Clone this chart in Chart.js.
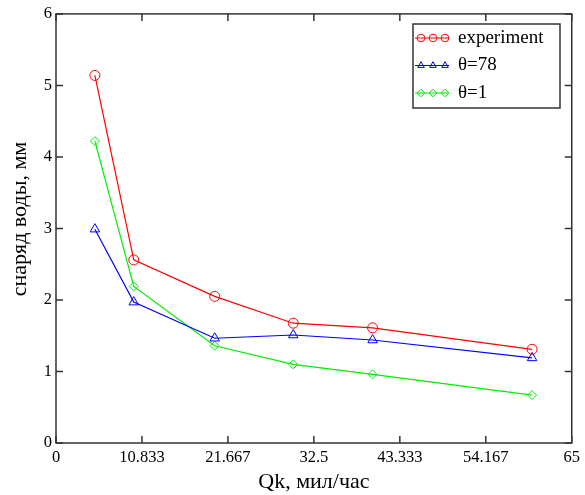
<!DOCTYPE html>
<html>
<head>
<meta charset="utf-8">
<script src="https://cdn.jsdelivr.net/npm/chart.js@4"></script>
<style>
  html, body { margin: 0; padding: 0; background: #fff; }
  #wrap { width: 585px; height: 495px; }
</style>
</head>
<body>
<div id="wrap"><canvas id="grafico" width="585" height="495"></canvas></div>
<script>
// dados
const qk = [4.9, 9.8, 20, 29.9, 39.9, 60];
const experimento = [5.14, 2.56, 2.05, 1.675, 1.61, 1.31];
const theta78 = [2.99, 1.97, 1.465, 1.51, 1.44, 1.19];
const theta1 = [4.22, 2.19, 1.36, 1.10, 0.96, 0.67];
const xTicks = [0, 10.833, 21.667, 32.5, 43.333, 54.167, 65];
const yTicks = [0, 1, 2, 3, 4, 5, 6];
const tituloY = 'снаряд воды, мм';

const fonte = '"Liberation Serif", "Times New Roman", serif';

function pontos(ys) {
    return qk.map((x, i) => ({ x: x, y: ys[i] }));
}

// moldura, ticks para dentro, título do eixo y e legenda
const molduraPlugin = {
    id: 'moldura',
    afterDraw(chart) {
        const ctx = chart.ctx;
        const a = chart.chartArea;
        const sx = chart.scales.x, sy = chart.scales.y;
        ctx.save();
        ctx.strokeStyle = '#333';
        ctx.lineWidth = 1.5;
        ctx.strokeRect(a.left, a.top, a.right - a.left, a.bottom - a.top);
        ctx.beginPath();
        xTicks.forEach(t => {
            const px = sx.getPixelForValue(t);
            ctx.moveTo(px, a.bottom); ctx.lineTo(px, a.bottom - 7);
            ctx.moveTo(px, a.top); ctx.lineTo(px, a.top + 7);
        });
        yTicks.forEach(t => {
            const py = sy.getPixelForValue(t);
            ctx.moveTo(a.left, py); ctx.lineTo(a.left + 7, py);
            ctx.moveTo(a.right, py); ctx.lineTo(a.right - 7, py);
        });
        ctx.stroke();

        // título do eixo y (um pouco acima do centro, como no original)
        ctx.save();
        ctx.translate(20, 219);
        ctx.rotate(-Math.PI / 2);
        ctx.fillStyle = '#000';
        ctx.font = '22px ' + fonte;
        ctx.textAlign = 'center';
        ctx.textBaseline = 'middle';
        ctx.fillText(tituloY, 0, 0);
        ctx.restore();

        // legenda
        const lx = 413, ly = 24, lw = 147, lh = 84;
        ctx.fillStyle = '#fff';
        ctx.fillRect(lx, ly, lw, lh);
        ctx.strokeStyle = '#333';
        ctx.lineWidth = 1.5;
        ctx.strokeRect(lx, ly, lw, lh);
        chart.data.datasets.forEach((ds, i) => {
            const y = ly + 14 + i * 27.5;
            ctx.strokeStyle = ds.borderColor;
            ctx.lineWidth = 1;
            ctx.beginPath();
            ctx.moveTo(lx + 2, y); ctx.lineTo(lx + 36, y);
            ctx.stroke();
            [lx + 8, lx + 20, lx + 32].forEach(mx => {
                ctx.fillStyle = 'rgba(0,0,0,0)';
                Chart.helpers.drawPoint(ctx, {
                    pointStyle: ds.pointStyle, radius: 3.8, rotation: 0,
                    borderWidth: 1
                }, mx, y);
            });
            ctx.fillStyle = '#000';
            ctx.font = '19px ' + fonte;
            ctx.textBaseline = 'middle';
            ctx.textAlign = 'left';
            ctx.fillText(ds.label, lx + 45, y);
        });
        ctx.restore();
    }
};

const ctx = document.getElementById('grafico').getContext('2d');
const chart = new Chart(ctx, {
    type: 'line',
    data: {
        datasets: [{
            label: 'experiment',
            data: pontos(experimento),
            borderColor: '#ff0000',
            backgroundColor: 'rgba(0,0,0,0)',
            pointStyle: 'circle',
            pointRadius: 5
        }, {
            label: 'θ=78',
            data: pontos(theta78),
            borderColor: '#0000ff',
            backgroundColor: 'rgba(0,0,0,0)',
            pointStyle: 'triangle',
            pointRadius: 5.5
        }, {
            label: 'θ=1',
            data: pontos(theta1),
            borderColor: '#00ee00',
            backgroundColor: 'rgba(0,0,0,0)',
            pointStyle: 'rectRot',
            pointRadius: 4.5
        }]
    },
    options: {
        responsive: false,
        animation: false,
        layout: { padding: { left: 0, right: 12, top: 13, bottom: 0 } },
        elements: {
            line: { borderWidth: 1.2, tension: 0 },
            point: { borderWidth: 1, hoverRadius: 5 }
        },
        plugins: {
            legend: { display: false },
            tooltip: { enabled: false }
        },
        scales: {
            x: {
                type: 'linear',
                min: 0,
                max: 65,
                afterBuildTicks: s => { s.ticks = xTicks.map(v => ({ value: v })); },
                afterFit: s => { s.height = 52; },
                grid: { display: false, drawTicks: false, tickLength: 0 },
                border: { display: false },
                ticks: {
                    color: '#000',
                    font: { family: fonte, size: 16.5 },
                    padding: 5,
                    maxRotation: 0,
                    autoSkip: false,
                    callback: v => String(v)
                },
                title: {
                    display: true,
                    text: 'Qk, мил/час',
                    color: '#000',
                    font: { family: fonte, size: 22 },
                    padding: { top: 0, bottom: 0 }
                }
            },
            y: {
                min: 0,
                max: 6,
                afterBuildTicks: s => { s.ticks = yTicks.map(v => ({ value: v })); },
                afterFit: s => { s.width = 56; },
                grid: { display: false, drawTicks: false, tickLength: 0 },
                border: { display: false },
                ticks: {
                    color: '#000',
                    font: { family: fonte, size: 16.5 },
                    padding: 4
                }
            }
        }
    },
    plugins: [molduraPlugin]
});
</script>
</body>
</html>
